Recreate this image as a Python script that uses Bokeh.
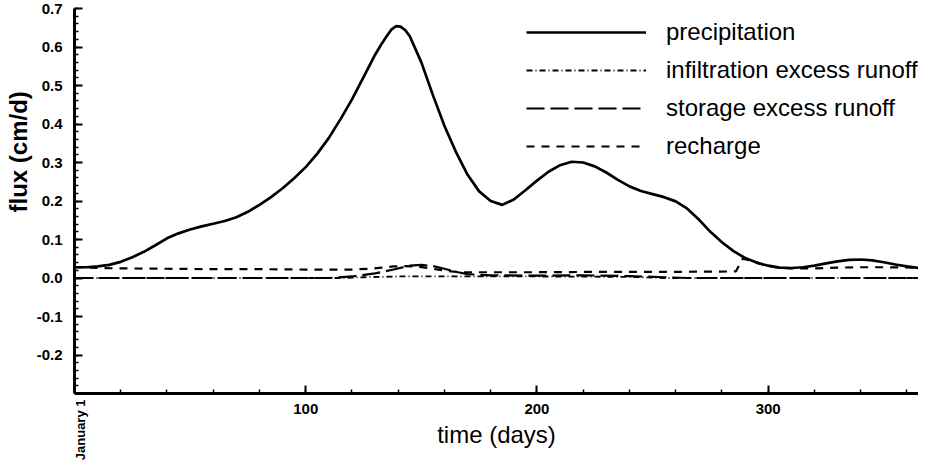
from bokeh.plotting import figure
from bokeh.models import (Range1d, FixedTicker, Legend, LegendItem, Label,
                          PrintfTickFormatter, Title)
from bokeh.embed import file_html
from bokeh.resources import INLINE
import math

# ---------------- data ----------------
precip_days = [0, 5, 10, 15, 20, 25, 30, 35, 40, 45, 50, 55, 60, 65, 70, 75, 80, 85,
               90, 95, 100, 105, 110, 115, 120, 125, 130, 133, 135, 137, 139, 141,
               143, 145, 150, 155, 160, 165, 170, 175, 180, 185, 190, 195, 200, 205,
               210, 215, 220, 225, 230, 235, 240, 245, 250, 255, 260, 265, 270, 275,
               280, 285, 290, 295, 300, 305, 310, 315, 320, 325, 330, 335, 340, 345,
               350, 355, 360, 365]
precip_vals = [0.028, 0.028, 0.030, 0.034, 0.042, 0.054, 0.068, 0.085, 0.103, 0.116,
               0.126, 0.134, 0.141, 0.148, 0.158, 0.172, 0.190, 0.210, 0.233, 0.259,
               0.288, 0.323, 0.364, 0.412, 0.464, 0.522, 0.580, 0.610, 0.628, 0.645,
               0.654, 0.653, 0.644, 0.628, 0.560, 0.475, 0.395, 0.327, 0.268, 0.225,
               0.200, 0.190, 0.204, 0.228, 0.253, 0.276, 0.293, 0.302, 0.300, 0.290,
               0.274, 0.255, 0.238, 0.226, 0.218, 0.210, 0.199, 0.180, 0.152, 0.120,
               0.093, 0.070, 0.052, 0.040, 0.032, 0.027, 0.026, 0.028, 0.032, 0.038,
               0.043, 0.047, 0.048, 0.046, 0.041, 0.035, 0.030, 0.026]

recharge_days = [0, 10, 20, 40, 60, 80, 100, 120, 128, 133, 138, 143, 148, 153, 158,
                 163, 168, 175, 200, 230, 260, 286, 289, 292, 296, 300, 305, 310, 320,
                 330, 340, 350, 365]
recharge_vals = [0.028, 0.026, 0.025, 0.024, 0.023, 0.023, 0.022, 0.022, 0.024, 0.027,
                 0.030, 0.031, 0.030, 0.026, 0.021, 0.017, 0.015, 0.015, 0.015, 0.016,
                 0.016, 0.017, 0.050, 0.046, 0.038, 0.031, 0.026, 0.025, 0.025, 0.027,
                 0.028, 0.028, 0.027]

storage_days = [0, 110, 120, 130, 138, 145, 150, 155, 160, 165, 170, 180, 200, 220,
                240, 255, 265, 365]
storage_vals = [0.0, 0.0, 0.004, 0.012, 0.022, 0.032, 0.034, 0.031, 0.024, 0.016,
                0.010, 0.007, 0.006, 0.007, 0.005, 0.002, 0.0, 0.0]

infil_days = [0, 115, 125, 140, 160, 200, 240, 255, 365]
infil_vals = [0.0, 0.0, 0.002, 0.004, 0.004, 0.004, 0.003, 0.0, 0.0]

x_major = [0, 100, 200, 300]
x_minor = list(range(0, 366, 20))
y_major = [-0.2, -0.1, 0.0, 0.1, 0.2, 0.3, 0.4, 0.5, 0.6, 0.7]
y_minor = [round(-0.3 + 0.02 * i, 2) for i in range(51)]

series_names = ["precipitation", "infiltration excess runoff",
                "storage excess runoff", "recharge"]
x_title = "time (days)"
y_title = "flux (cm/d)"
start_label = "January 1"

# ---------------- figure ----------------
FONT = "Liberation Sans"
Y_LOW, Y_HIGH = -0.3, 0.7
p = figure(width=918, height=460, output_backend="svg", toolbar_location=None,
           x_range=Range1d(0, 365), y_range=Range1d(-0.474, Y_HIGH),
           min_border_left=70, min_border_right=0, min_border_top=8,
           min_border_bottom=0)
p.outline_line_color = None
p.xgrid.visible = False
p.ygrid.visible = False
p.background_fill_color = "white"

r_p = p.line(precip_days, precip_vals, line_color="black", line_width=2.7)
r_i = p.line(infil_days, infil_vals, line_color="black", line_width=1.8,
             line_dash="6 3 1 3")
r_s = p.line(storage_days, storage_vals, line_color="black", line_width=2.2,
             line_dash="18 6")
r_r = p.line(recharge_days, recharge_vals, line_color="black", line_width=2.2,
             line_dash="8 7")

# axes
xa = p.xaxis[0]
xa.ticker = FixedTicker(ticks=x_major, minor_ticks=x_minor)
xa.major_label_overrides = {0: ""}
xa.axis_label = x_title
xa.fixed_location = Y_LOW
ya = p.yaxis[0]
ya.ticker = FixedTicker(ticks=y_major, minor_ticks=y_minor)
ya.formatter = PrintfTickFormatter(format="%.1f")
ya.bounds = (Y_LOW, Y_HIGH)
ya.axis_label = None

for ax in (xa, ya):
    ax.axis_line_width = 3
    ax.axis_line_color = "black"
    ax.major_tick_in = 8
    ax.major_tick_out = 0
    ax.minor_tick_in = 4
    ax.minor_tick_out = 0
    ax.major_tick_line_width = 2
    ax.minor_tick_line_width = 1.5
    ax.major_label_text_font = FONT
    ax.major_label_text_font_style = "bold"
    ax.major_label_text_font_size = "15px"
    ax.major_label_text_color = "black"
    ax.axis_label_text_font = FONT
    ax.axis_label_text_font_size = "24px"
    ax.axis_label_text_color = "black"

xa.major_label_standoff = 10
xa.axis_label_standoff = 4
xa.axis_label_text_font_style = "normal"
ya.major_label_standoff = 12

ytitle = Title(text=y_title, align="left", offset=248, standoff=4,
               text_font=FONT, text_font_style="bold", text_font_size="24px",
               text_color="black")
p.add_layout(ytitle, "left")

jan = Label(x=0, y=Y_LOW, x_units="data", y_units="data", text=start_label,
            angle=math.pi / 2, text_align="right", text_baseline="middle",
            x_offset=6, y_offset=-6, text_font=FONT, text_font_style="bold",
            text_font_size="13px", text_color="black")
p.add_layout(jan)

legend = Legend(items=[LegendItem(label=series_names[0], renderers=[r_p]),
                       LegendItem(label=series_names[1], renderers=[r_i]),
                       LegendItem(label=series_names[2], renderers=[r_s]),
                       LegendItem(label=series_names[3], renderers=[r_r])],
                location=(452, 295), orientation="vertical",
                glyph_width=120, glyph_height=38, label_height=38, spacing=0,
                padding=0, margin=0, label_standoff=20,
                label_text_font=FONT, label_text_font_size="24px",
                label_text_color="black", border_line_color=None,
                background_fill_alpha=0)
p.add_layout(legend)

open("out.html", "w").write(file_html(p, INLINE))
